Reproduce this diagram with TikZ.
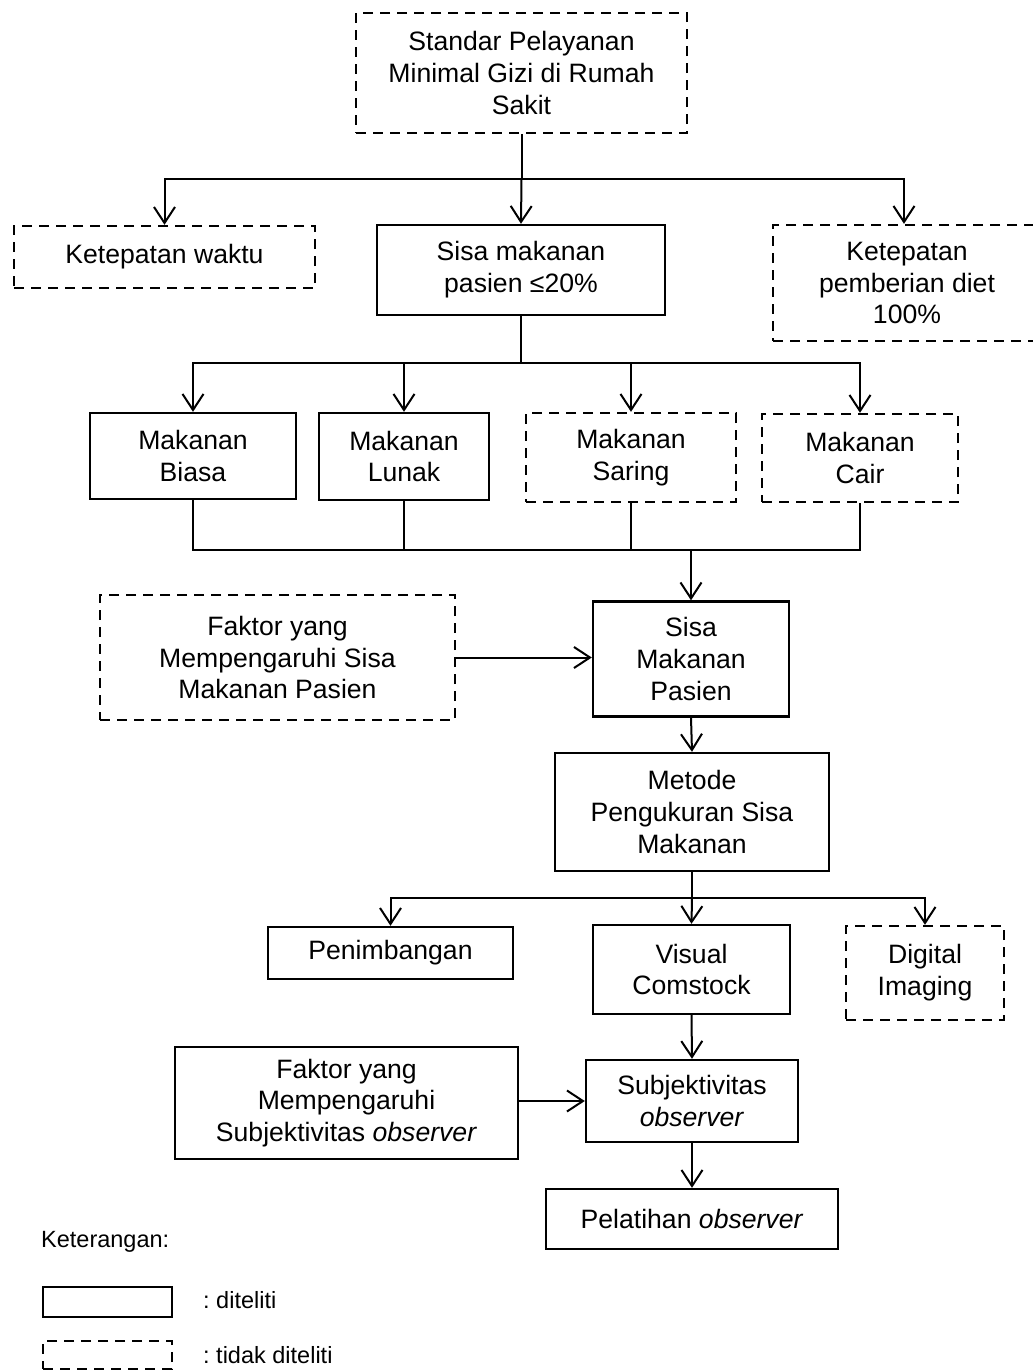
\documentclass[tikz,border=0pt]{standalone}
\usepackage{fontspec}
\setmainfont{Liberation Sans}
\usetikzlibrary{arrows.meta}
\begin{document}
\begin{tikzpicture}[x=1pt,y=-1pt,
  box/.style={draw, line width=2.4pt, align=center, inner sep=0pt,
    font=\fontsize{26.6}{31.8}\selectfont},
  dbox/.style={box, dash pattern=on 10pt off 7pt},
  conn/.style={line width=2pt},
  arr/.style={conn, -{Straight Barb[length=16pt,width=21pt,line width=2pt]}},
  legtext/.style={anchor=west, inner sep=0pt, font=\fontsize{23.5}{28}\selectfont}
]
\useasboundingbox (0,0) rectangle (1033,1371);

% nodes
\node[dbox, minimum width=331pt, minimum height=120pt] (top) at (521.5,73) {Standar Pelayanan\\Minimal Gizi di Rumah\\Sakit};
\node[dbox, minimum width=301pt, minimum height=62pt] (kw) at (164.5,257) {Ketepatan waktu};
\node[box, minimum width=288pt, minimum height=90pt] (sm) at (521,270) {Sisa makanan\\pasien ≤20\%};
\node[dbox, minimum width=268pt, minimum height=116pt] (kp) at (907,283) {Ketepatan\\pemberian diet\\100\%};

\node[box, minimum width=206pt, minimum height=86pt] (mb) at (193,456) {Makanan\\Biasa};
\node[box, minimum width=170pt, minimum height=87pt] (ml) at (404,456.5) {Makanan\\Lunak};
\node[dbox, minimum width=210pt, minimum height=89pt] (ms) at (631,457.5) {Makanan\\Saring};
\node[dbox, minimum width=196pt, minimum height=88pt] (mc) at (860,458) {Makanan\\Cair};

\node[dbox, minimum width=355pt, minimum height=125pt] (fs) at (277.5,657.5) {Faktor yang\\Mempengaruhi Sisa\\Makanan Pasien};
\node[box, minimum width=196pt, minimum height=115pt] (smp) at (691,659) {Sisa\\Makanan\\Pasien};

\node[box, minimum width=274pt, minimum height=118pt] (met) at (692,812) {Metode\\Pengukuran Sisa\\Makanan};

\node[box, minimum width=245pt, minimum height=52pt] (pen) at (390.5,953) {Penimbangan};
\node[box, minimum width=197pt, minimum height=89pt] (vc) at (691.5,969.5) {Visual\\Comstock};
\node[dbox, minimum width=158pt, minimum height=94pt] (di) at (925,973) {Digital\\Imaging};

\node[box, minimum width=343pt, minimum height=112pt] (fso) at (346.5,1103) {Faktor yang\\Mempengaruhi\\Subjektivitas \textit{observer}};
\node[box, minimum width=212pt, minimum height=82pt] (sub) at (692,1101) {Subjektivitas\\\textit{observer}};
\node[box, minimum width=292pt, minimum height=60pt] (pel) at (692,1219) {Pelatihan \textit{observer}};

% connectors
\coordinate (j1) at (521.5,179);
\draw[conn] (top.south) -- (j1);
\draw[arr] (j1) -| (kw.north);
\draw[arr] (j1) -- (sm.north);
\draw[arr] (j1) -| ([xshift=-3pt]kp.north);

\coordinate (j2) at (521,363);
\draw[conn] (sm.south) -- (j2);
\draw[arr] (j2) -| (mb.north);
\draw[arr] (j2) -| (ml.north);
\draw[arr] (j2) -| (ms.north);
\draw[arr] (j2) -| (mc.north);

\coordinate (j3) at (691,550);
\draw[conn] (mb.south) |- (j3);
\draw[conn] (ml.south) |- (j3);
\draw[conn] (ms.south) |- (j3);
\draw[conn] (mc.south) |- (j3);
\draw[arr] (j3) -- (smp.north);

\draw[arr] (fs.east) -- (fs.east -| smp.west);
\draw[arr] (smp.south) -- (met.north);

\coordinate (j4) at (692,898);
\draw[conn] (met.south) -- (j4);
\draw[arr] (j4) -| (pen.north);
\draw[arr] (j4) -- (vc.north);
\draw[arr] (j4) -| (di.north);

\draw[arr] (vc.south) -- (sub.north);
\draw[arr] (sub.west -| fso.east) -- (sub.west);
\draw[arr] (sub.south) -- (pel.north);

% legend
\node[legtext] (ket) at (41,1242) {Keterangan:};
\node[box, line width=2.2pt, minimum width=129pt, minimum height=30pt] (lg1) at (107.5,1302) {};
\node[dbox, line width=2.2pt, minimum width=129pt, minimum height=28pt] (lg2) at (107.5,1355) {};
\node[legtext] (t1) at (203,1300) {:~diteliti};
\node[legtext] (t2) at (203,1355) {:~tidak diteliti};
\end{tikzpicture}
\end{document}
